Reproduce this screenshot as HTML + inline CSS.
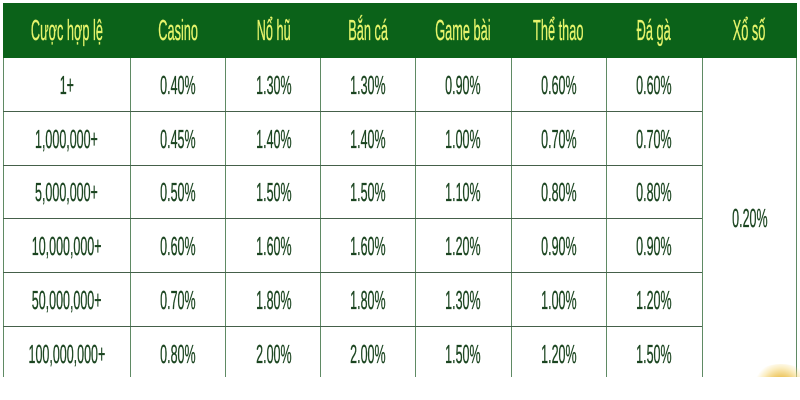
<!DOCTYPE html>
<html>
<head>
<meta charset="utf-8">
<style>
  html,body{margin:0;padding:0;background:#fff;}
  body{width:800px;height:400px;position:relative;overflow:hidden;font-family:"Liberation Sans",Arial,sans-serif;}
  .hdr{position:absolute;left:3px;top:3px;width:794px;height:55px;background:#0b6219;}
  .c{position:absolute;display:flex;align-items:center;justify-content:center;white-space:nowrap;}
  .c span{display:inline-block;}
  .h span{color:#e6f46c;font-size:29px;transform:scaleX(0.44);-webkit-text-stroke:0.35px #e6f46c;}
  .b span{color:#1b4520;font-size:26px;transform:scaleX(0.48);-webkit-text-stroke:0.35px #1b4520;}
  .vl{position:absolute;width:1px;background:#5f8a64;top:58px;height:319px;}
  .hl{position:absolute;height:1px;background:#45604a;left:3px;width:699px;}
  .gold{position:absolute;left:756px;top:364px;width:50px;height:26px;border-radius:50% 50% 0 0;
    background:radial-gradient(ellipse at 50% 100%, #dcaa30 0%, #edc660 35%, rgba(248,222,140,0.55) 60%, rgba(255,255,255,0) 78%);}
  .gcover{position:absolute;left:740px;top:377px;width:60px;height:23px;background:#fff;}
</style>
</head>
<body>
<div class="hdr"></div>

<!-- header texts -->
<div class="c h" style="left:3px;top:4px;width:127px;height:55px;"><span>Cược hợp lệ</span></div>
<div class="c h" style="left:130px;top:4px;width:96px;height:55px;"><span>Casino</span></div>
<div class="c h" style="left:226px;top:4px;width:95px;height:55px;"><span>Nổ hũ</span></div>
<div class="c h" style="left:321px;top:4px;width:94px;height:55px;"><span>Bắn cá</span></div>
<div class="c h" style="left:415px;top:4px;width:96px;height:55px;"><span>Game bài</span></div>
<div class="c h" style="left:511px;top:4px;width:95px;height:55px;"><span>Thể thao</span></div>
<div class="c h" style="left:606px;top:4px;width:96px;height:55px;"><span>Đá gà</span></div>
<div class="c h" style="left:702px;top:4px;width:95px;height:55px;"><span>Xổ số</span></div>

<!-- grid lines -->
<div class="vl" style="left:3px;"></div>
<div class="vl" style="left:130px;"></div>
<div class="vl" style="left:225px;"></div>
<div class="vl" style="left:320px;"></div>
<div class="vl" style="left:415px;"></div>
<div class="vl" style="left:511px;"></div>
<div class="vl" style="left:606px;"></div>
<div class="vl" style="left:702px;"></div>
<div class="vl" style="left:796px;"></div>

<div class="hl" style="top:111px;"></div>
<div class="hl" style="top:165px;"></div>
<div class="hl" style="top:218px;"></div>
<div class="hl" style="top:272px;"></div>
<div class="hl" style="top:326px;"></div>

<!-- row 1 -->
<div class="c b" style="left:3px;top:58px;width:127px;height:55px;"><span>1+</span></div>
<div class="c b" style="left:130px;top:58px;width:96px;height:55px;"><span>0.40%</span></div>
<div class="c b" style="left:226px;top:58px;width:95px;height:55px;"><span>1.30%</span></div>
<div class="c b" style="left:321px;top:58px;width:94px;height:55px;"><span>1.30%</span></div>
<div class="c b" style="left:415px;top:58px;width:96px;height:55px;"><span>0.90%</span></div>
<div class="c b" style="left:511px;top:58px;width:95px;height:55px;"><span>0.60%</span></div>
<div class="c b" style="left:606px;top:58px;width:96px;height:55px;"><span>0.60%</span></div>

<!-- row 2 -->
<div class="c b" style="left:3px;top:111px;width:127px;height:56px;"><span>1,000,000+</span></div>
<div class="c b" style="left:130px;top:111px;width:96px;height:56px;"><span>0.45%</span></div>
<div class="c b" style="left:226px;top:111px;width:95px;height:56px;"><span>1.40%</span></div>
<div class="c b" style="left:321px;top:111px;width:94px;height:56px;"><span>1.40%</span></div>
<div class="c b" style="left:415px;top:111px;width:96px;height:56px;"><span>1.00%</span></div>
<div class="c b" style="left:511px;top:111px;width:95px;height:56px;"><span>0.70%</span></div>
<div class="c b" style="left:606px;top:111px;width:96px;height:56px;"><span>0.70%</span></div>

<!-- row 3 -->
<div class="c b" style="left:3px;top:165px;width:127px;height:55px;"><span>5,000,000+</span></div>
<div class="c b" style="left:130px;top:165px;width:96px;height:55px;"><span>0.50%</span></div>
<div class="c b" style="left:226px;top:165px;width:95px;height:55px;"><span>1.50%</span></div>
<div class="c b" style="left:321px;top:165px;width:94px;height:55px;"><span>1.50%</span></div>
<div class="c b" style="left:415px;top:165px;width:96px;height:55px;"><span>1.10%</span></div>
<div class="c b" style="left:511px;top:165px;width:95px;height:55px;"><span>0.80%</span></div>
<div class="c b" style="left:606px;top:165px;width:96px;height:55px;"><span>0.80%</span></div>

<!-- row 4 -->
<div class="c b" style="left:3px;top:218px;width:127px;height:56px;"><span>10,000,000+</span></div>
<div class="c b" style="left:130px;top:218px;width:96px;height:56px;"><span>0.60%</span></div>
<div class="c b" style="left:226px;top:218px;width:95px;height:56px;"><span>1.60%</span></div>
<div class="c b" style="left:321px;top:218px;width:94px;height:56px;"><span>1.60%</span></div>
<div class="c b" style="left:415px;top:218px;width:96px;height:56px;"><span>1.20%</span></div>
<div class="c b" style="left:511px;top:218px;width:95px;height:56px;"><span>0.90%</span></div>
<div class="c b" style="left:606px;top:218px;width:96px;height:56px;"><span>0.90%</span></div>

<!-- row 5 -->
<div class="c b" style="left:3px;top:272px;width:127px;height:56px;"><span>50,000,000+</span></div>
<div class="c b" style="left:130px;top:272px;width:96px;height:56px;"><span>0.70%</span></div>
<div class="c b" style="left:226px;top:272px;width:95px;height:56px;"><span>1.80%</span></div>
<div class="c b" style="left:321px;top:272px;width:94px;height:56px;"><span>1.80%</span></div>
<div class="c b" style="left:415px;top:272px;width:96px;height:56px;"><span>1.30%</span></div>
<div class="c b" style="left:511px;top:272px;width:95px;height:56px;"><span>1.00%</span></div>
<div class="c b" style="left:606px;top:272px;width:96px;height:56px;"><span>1.20%</span></div>

<!-- row 6 -->
<div class="c b" style="left:3px;top:326px;width:127px;height:56px;"><span>100,000,000+</span></div>
<div class="c b" style="left:130px;top:326px;width:96px;height:56px;"><span>0.80%</span></div>
<div class="c b" style="left:226px;top:326px;width:95px;height:56px;"><span>2.00%</span></div>
<div class="c b" style="left:321px;top:326px;width:94px;height:56px;"><span>2.00%</span></div>
<div class="c b" style="left:415px;top:326px;width:96px;height:56px;"><span>1.50%</span></div>
<div class="c b" style="left:511px;top:326px;width:95px;height:56px;"><span>1.20%</span></div>
<div class="c b" style="left:606px;top:326px;width:96px;height:56px;"><span>1.50%</span></div>

<!-- merged Xổ số -->
<div class="c b" style="left:702px;top:58px;width:95px;height:320px;"><span>0.20%</span></div>

<div class="gold"></div>
<div class="gcover"></div>
</body>
</html>
